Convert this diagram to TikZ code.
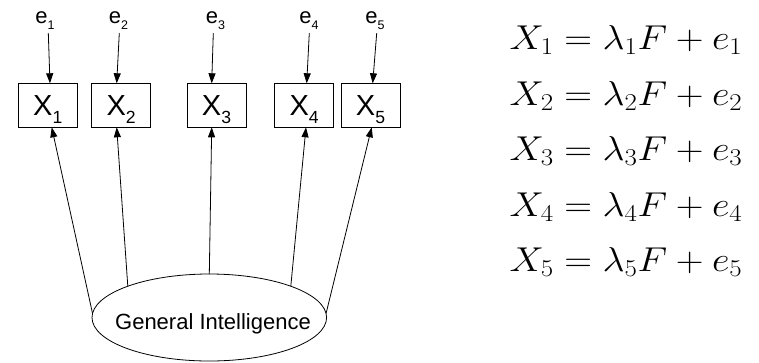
\documentclass[tikz,border=0pt]{standalone}
\usepackage{fix-cm}
\usepackage{graphicx}
\usepackage{fontspec}
\newfontfamily\arial{Liberation Sans}
\usetikzlibrary{arrows.meta,shapes.geometric,calc}
\newcommand\xsub[1]{\raisebox{-8.3pt}{\fontsize{17.6}{17.6}\selectfont #1}}
\newcommand\esub[1]{\raisebox{-6pt}{\fontsize{12.5}{12.5}\selectfont #1}}
\newcommand\eqline[1]{\scalebox{1.115}[1]{$X_{#1}=\lambda_{#1}F+e_{#1}$}}
\begin{document}
\begin{tikzpicture}[x=1pt,y=-1pt,
  arr/.style={-{Triangle[length=10pt,width=7pt]}, line width=0.8pt},
  obs/.style={draw, line width=0.8pt, minimum width=59pt, minimum height=44pt,
    inner sep=0pt, outer sep=0pt, text height=27.4pt, text depth=8pt,
    font=\arial\fontsize{29}{29}\selectfont},
  elab/.style={inner xsep=0pt, inner ysep=3.5pt, outer sep=0pt, anchor=base,
    font=\arial\fontsize{22}{22}\selectfont},
  eqn/.style={anchor=base west, inner sep=0pt, font=\fontsize{34.5}{34.5}\selectfont}]
\useasboundingbox (0,0) rectangle (759,362);
% observed variables
\node[obs] (x1) at (47.8,105.3) {X\xsub{1}};
\node[obs] (x2) at (121.2,105.3) {X\xsub{2}};
\node[obs] (x3) at (216.5,105.3) {X\xsub{3}};
\node[obs] (x4) at (304.2,105.3) {X\xsub{4}};
\node[obs] (x5) at (370.5,105.3) {X\xsub{5}};
% errors
\node[elab] (e1) at (45,23.5) {e\esub{1}};
\node[elab] (e2) at (118.5,23.5) {e\esub{2}};
\node[elab] (e3) at (215.5,23.5) {e\esub{3}};
\node[elab] (e4) at (309,23.5) {e\esub{4}};
\node[elab] (e5) at (375,23.5) {e\esub{5}};
% factor
\node[draw, ellipse, line width=0.8pt, minimum width=234.6pt, minimum height=87pt,
  inner sep=0pt, outer sep=0pt] (gi) at (209.3,317.5) {};
\node[anchor=base, inner sep=0pt, font=\arial\fontsize{22}{22}\selectfont] (gitext) at (213,329.3) {General Intelligence};
% error arrows
\draw[arr] ($(e1.south)+(3.3,0)$) -- ($(x1.north)+(2.2,0)$);
\draw[arr] ($(e2.south)+(0.8,0)$) -- ($(x2.north)+(-4.5,0)$);
\draw[arr] ($(e3.south)+(-2.2,0)$) -- ($(x3.north)+(-4.8,0)$);
\draw[arr] ($(e4.south)+(0.3,0)$) -- ($(x4.north)+(2.5,0)$);
\draw[arr] ($(e5.south)+(1.7,0)$) -- ($(x5.north)+(2.2,0)$);
% loading arrows
\draw[arr] (gi.178) -- ($(x1.south)+(3.9,0)$);
\draw[arr] (gi.159) -- ($(x2.south)+(-4.5,0)$);
\draw[arr] (gi.90) -- ($(x3.south)+(-4.8,0)$);
\draw[arr] (gi.21) -- ($(x4.south)+(1.8,0)$);
\draw[arr] (gi.2) -- ($(x5.south)+(1.2,0)$);
% equations
\node[eqn] (eq1) at (509.3,49.5) {\eqline{1}};
\node[eqn] (eq2) at (509.3,105) {\eqline{2}};
\node[eqn] (eq3) at (509.3,160.5) {\eqline{3}};
\node[eqn] (eq4) at (509.3,216) {\eqline{4}};
\node[eqn] (eq5) at (509.3,271.5) {\eqline{5}};
\end{tikzpicture}
\end{document}
